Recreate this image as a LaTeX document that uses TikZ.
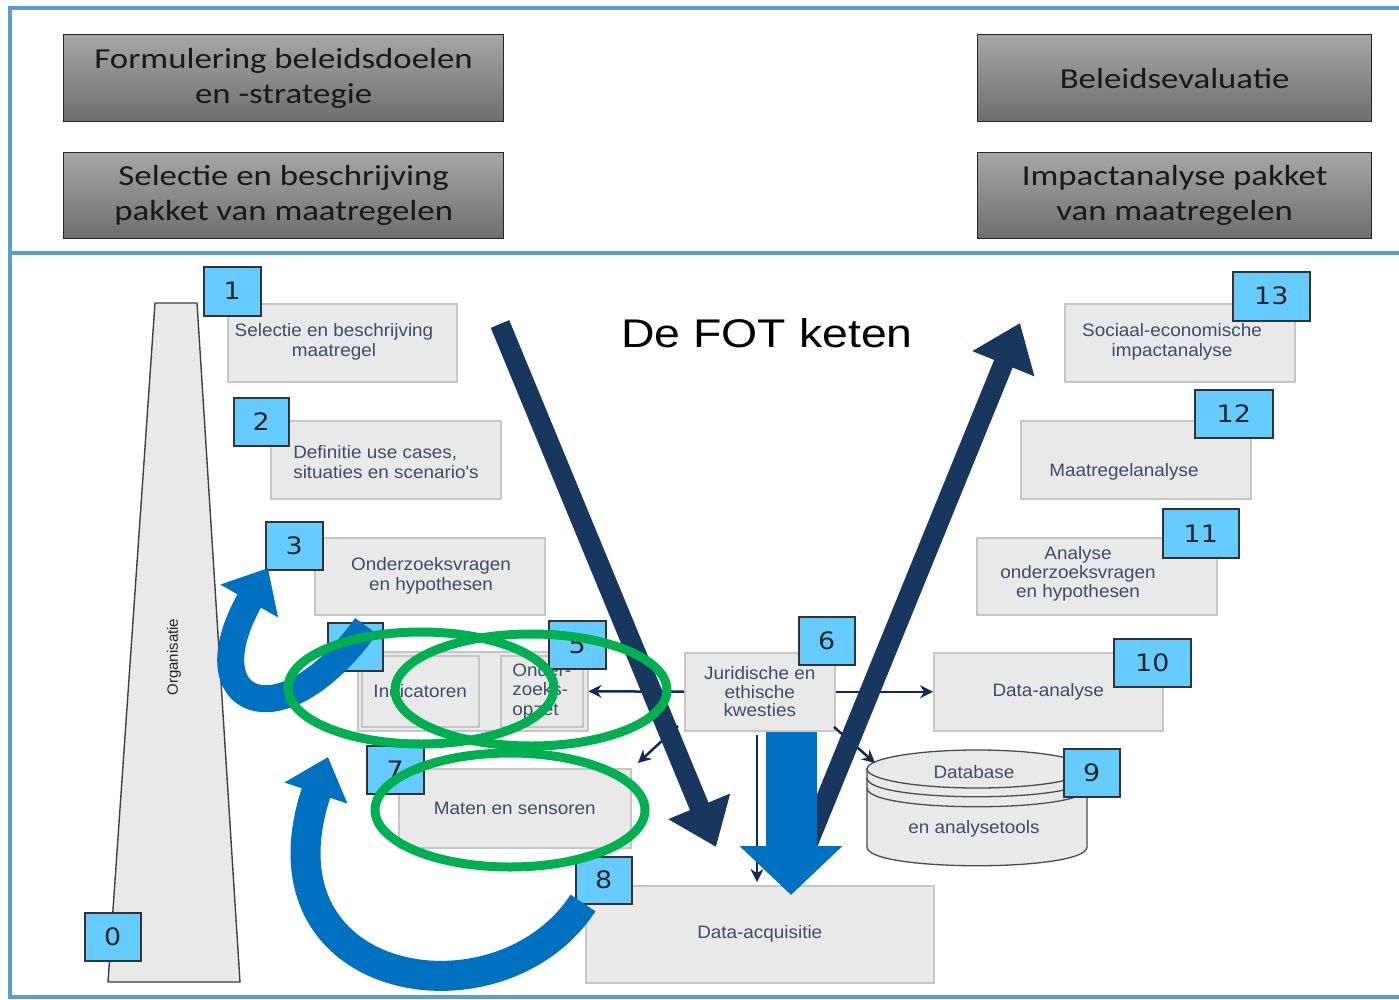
\documentclass[tikz,border=0pt]{standalone}
\usepackage{fontspec}
\setmainfont{Liberation Sans}
\newfontfamily\calib[FakeStretch=1.2]{Carlito}
\newfontfamily\numf[FakeStretch=1.12]{DejaVu Sans}
\newfontfamily\ttlf[FakeStretch=1.16]{Liberation Sans}
\newfontfamily\lblf[FakeStretch=1.05]{Liberation Sans}
\usetikzlibrary{arrows.meta}
\definecolor{frameblue}{HTML}{5B9BD5}
\definecolor{tbtop}{HTML}{A6A6A6}
\definecolor{tbbot}{HTML}{6E6E6E}
\definecolor{boxfill}{HTML}{E9E9E9}
\definecolor{boxedge}{HTML}{C6C6C6}
\definecolor{txtblue}{HTML}{3E4B6A}
\definecolor{numfill}{HTML}{66CCFF}
\definecolor{numedge}{HTML}{333333}
\definecolor{navy}{HTML}{17375E}
\definecolor{smallnavy}{HTML}{102A5C}
\definecolor{blueA}{HTML}{0070C0}
\definecolor{blueB}{HTML}{0760A8}
\definecolor{ringgreen}{HTML}{00B050}
\begin{document}
\begin{tikzpicture}[x=1pt,y=-1pt,
  frame/.style={draw=frameblue, line width=4pt},
  topbox/.style={draw=black!85, line width=1.3pt, top color=tbtop, bottom color=tbbot,
    anchor=north west, inner sep=0pt, align=center, text=black!90,
    font=\calib\fontsize{29}{35}\selectfont},
  gbox/.style={draw=boxedge, fill=boxfill, line width=1.5pt, anchor=north west,
    inner sep=0pt, align=center, text=txtblue, font=\lblf\fontsize{18}{19.5}\selectfont},
  glabel/.style={text=txtblue, align=center, inner sep=0pt, font=\lblf\fontsize{18}{19.5}\selectfont},
  numbox/.style={draw=numedge, fill=numfill, line width=1.5pt, anchor=north west,
    inner sep=0pt, text=black!85, font=\numf\fontsize{24}{24}\selectfont},
  navyarrow/.style={draw=navy, line width=20pt, -{Triangle[length=44pt,width=64pt]}},
  bluearrow/.style={draw=blueA, line width=27pt, -{Triangle[length=38pt,width=64pt]}},
  smallarrow/.style={draw=smallnavy, line width=2.5pt, -{Stealth[length=13pt,width=13pt]}},
  greenring/.style={draw=ringgreen, line width=9pt},
  cyl/.style={draw=black!70, fill=boxfill, line width=1.3pt}
]
\useasboundingbox (0,0) rectangle (1399,1000);

% frame
\draw[frame] (1399,8) -- (10,8) -- (10,997) -- (1399,997);
\draw[frame] (10,253) -- (1399,253);

% top boxes
\node[topbox, minimum width=440pt, minimum height=87pt] (tA) at (63,34) {Formulering beleidsdoelen\\en -strategie};
\node[topbox, minimum width=440pt, minimum height=86pt] (tB) at (63,152) {Selectie en beschrijving\\pakket van maatregelen};
\node[topbox, minimum width=394pt, minimum height=87pt] (tC) at (977,34) {Beleidsevaluatie};
\node[topbox, minimum width=394pt, minimum height=86pt] (tD) at (977,152) {Impactanalyse pakket\\van maatregelen};

% title
\node[font=\ttlf\fontsize{40}{40}\selectfont, inner sep=0pt] (title) at (767,333) {De FOT keten};

% organisation trapezoid
\draw[draw=black!75, fill=boxfill, line width=1.4pt] (155,303) -- (197,303) -- (240,982) -- (108,982) -- cycle;
\node[rotate=90, font=\fontsize{15}{15}\selectfont, text=black!85, inner sep=0pt] (org) at (174,657) {Organisatie};

% grey boxes
\node[gbox, minimum width=229pt, minimum height=78pt] (b1) at (227,303) {};
\node[glabel] (l1) at (334,342) {Selectie en beschrijving\\maatregel};
\node[gbox, minimum width=230pt, minimum height=78pt] (b2) at (270,420) {};
\node[glabel, align=left] (l2) at (386,462) {Definitie use cases,\\situaties en scenario's};
\node[gbox, minimum width=230pt, minimum height=77pt] (b3) at (314,537) {};
\node[glabel] (l3) at (431,576) {Onderzoeksvragen\\en hypothesen};
\node[gbox, minimum width=230pt, minimum height=79pt] (grp) at (357,651) {};
\node[gbox, minimum width=117pt, minimum height=71pt] (ind) at (361,655) {Indicatoren};
\node[gbox, minimum width=82pt, minimum height=71pt, align=left] (ozo) at (500,655) {Onder-\\zoeks-\\opzet};
\node[gbox, minimum width=150pt, minimum height=78pt, font=\lblf\fontsize{18}{18.5}\selectfont] (b6) at (684,652) {Juridische en\\ethische\\kwesties};
\node[gbox, minimum width=232pt, minimum height=79pt] (b7) at (398,768) {Maten en sensoren};
\node[gbox, minimum width=348pt, minimum height=97pt] (b8) at (585,885) {Data-acquisitie};
\node[gbox, minimum width=229pt, minimum height=78pt] (b10) at (933,652) {Data-analyse};
\node[gbox, minimum width=240pt, minimum height=77pt] (b11) at (976,537) {};
\node[glabel, font=\lblf\fontsize{18}{19}\selectfont] (l11) at (1078,574) {Analyse\\onderzoeksvragen\\en hypothesen};
\node[gbox, minimum width=230pt, minimum height=78pt] (b12) at (1020,420) {};
\node[glabel] (l12) at (1124,472) {Maatregelanalyse};
\node[gbox, minimum width=230pt, minimum height=78pt] (b13) at (1064,303) {};
\node[glabel] (l13) at (1172,342) {Sociaal-economische\\impactanalyse};

% database cylinder
\path[cyl] (867,769) -- (867,847) .. controls (867,872) and (1087,872) .. (1087,847) -- (1087,769) -- cycle;
\draw[cyl] (977,769) ellipse [x radius=110, y radius=19];
\draw[draw=black!70, line width=1.3pt] (867,778) .. controls (867,803) and (1087,803) .. (1087,778);
\draw[draw=black!70, line width=1.3pt] (867,788) .. controls (867,813) and (1087,813) .. (1087,788);
\node[glabel] (db) at (974,772) {Database};
\node[glabel] (dbt) at (974,829) {en analysetools};

% number boxes
\node[numbox, minimum width=56pt, minimum height=48pt] (n0) at (84,912) {0};
\node[numbox, minimum width=57pt, minimum height=49pt] (n1) at (203,266) {1};
\node[numbox, minimum width=55pt, minimum height=48pt] (n2) at (233,397) {2};
\node[numbox, minimum width=57pt, minimum height=48pt] (n3) at (265,521) {3};
\node[numbox, minimum width=55pt, minimum height=48pt] (n4) at (327,622) {4};
\node[numbox, minimum width=57pt, minimum height=48pt] (n5) at (548,620) {5};
\node[numbox, minimum width=56pt, minimum height=48pt] (n6) at (798,616) {6};
\node[numbox, minimum width=57pt, minimum height=48pt] (n7) at (366,745) {7};
\node[numbox, minimum width=56pt, minimum height=47pt] (n8) at (575,856) {8};
\node[numbox, minimum width=56pt, minimum height=48pt] (n9) at (1063,748) {9};
\node[numbox, minimum width=77pt, minimum height=48pt] (n10) at (1113,638) {10};
\node[numbox, minimum width=76pt, minimum height=49pt] (n11) at (1162,508) {11};
\node[numbox, minimum width=78pt, minimum height=48pt] (n12) at (1194,389) {12};
\node[numbox, minimum width=77pt, minimum height=49pt] (n13) at (1232,271) {13};

% small connectors
\coordinate (dl0) at (678,726);
\coordinate (dl1) at (638,763);
\coordinate (dr0) at (834,727);
\coordinate (dr1) at (875,763);
\coordinate (th0) at (757,735);
\coordinate (th1) at (757,882);
\draw[smallarrow] (b6.west) -- (grp.east);
\draw[smallarrow] (b6.east) -- (b10.west);
\draw[smallarrow] (dl0) -- (dl1);
\draw[smallarrow] (dr0) -- (dr1);
\draw[smallarrow] (th0) -- (th1);

% V arrows
\coordinate (vl0) at (500,324);
\coordinate (vl1) at (716,847);
\coordinate (vr0) at (806,848);
\coordinate (vr1) at (1020,323);
\draw[navyarrow] (vl0) -- (vl1);
\draw[navyarrow] (vr0) -- (vr1);

% big blue down arrow
\coordinate (bd0) at (791,732);
\coordinate (bd1) at (791,895);
\draw[draw=blueA, line width=51pt, -{Triangle[length=49pt,width=100pt]}] (bd0) -- (bd1);

% curved blue arrows
\coordinate (ca0) at (366,626);
\coordinate (ca1) at (268,568);
\draw[bluearrow] (ca0) .. controls (280,745) and (190,705) .. (ca1);
\coordinate (cb0) at (583,903);
\coordinate (cb1) at (328,757);
\draw[bluearrow, line width=30pt] (cb0) .. controls (500,1030) and (250,990) .. (cb1);

% green rings
\draw[greenring] (421,688) ellipse [x radius=133, y radius=56];
\draw[greenring] (531,690) ellipse [x radius=136, y radius=56];
\draw[greenring] (510,810) ellipse [x radius=135, y radius=57];
\end{tikzpicture}
\end{document}
